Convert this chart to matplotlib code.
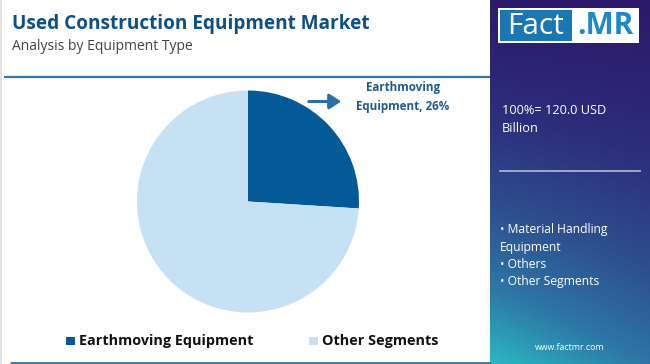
import numpy as np
import matplotlib
matplotlib.use("Agg")
import matplotlib.pyplot as plt
from matplotlib.colors import LinearSegmentedColormap
from matplotlib.patches import Rectangle

categories = ["Earthmoving Equipment", "Other Segments"]
values = [26, 74]
colors = ["#045a96", "#c6e1f3"]
title = "Used Construction Equipment Market"
subtitle = "Analysis by Equipment Type"
total_lines = ["100%= 120.0 USD", "Billion"]
bullets = ["• Material Handling", "Equipment", "• Others", "• Other Segments"]

W, H = 650, 364
fig = plt.figure(figsize=(6.5, 3.64), dpi=100)
fig.patch.set_facecolor("white")

def fx(x):
    return x / W

def fy(y):
    return 1 - y / H

FONT = "Open Sans"

# right gradient panel
cmap = LinearSegmentedColormap.from_list("fm", ["#2c1b6b", "#2d2f7c", "#2e4f8e", "#2d77a6", "#2bb8c1"])
ny, nx = 200, 80
yy, xx = np.mgrid[0:1:ny * 1j, 0:1:nx * 1j]
t = 0.85 * yy ** 1.3 + 0.3 * (1 - xx) * yy
t = (t - t.min()) / (t.max() - t.min())
panel = fig.add_axes([fx(490), 0, fx(W - 490), 1])
panel.imshow(t, cmap=cmap, aspect="auto", extent=[0, 1, 1, 0], interpolation="bilinear")
panel.set_xlim(0, 1)
panel.set_ylim(1, 0)
panel.axis("off")

# overlay axes in pixel coords
bg = fig.add_axes([0, 0, 1, 1])
bg.set_xlim(0, W)
bg.set_ylim(H, 0)
bg.axis("off")
bg.patch.set_alpha(0)
bg.add_patch(Rectangle((0, 0), 2, H, color="#e4e4e4", lw=0))
bg.plot([4, 490], [76.5, 76.5], color="#2f78a8", lw=1.6, solid_capstyle="butt")
bg.plot([10, 490], [362.5, 362.5], color="#2f78a8", lw=2.0, solid_capstyle="butt")

# logo
bg.add_patch(Rectangle((498, 8), 141, 35, facecolor="white", edgecolor="none", zorder=5))
bg.add_patch(Rectangle((500, 10), 72, 31, facecolor="#1b77b3", edgecolor="none", zorder=6))
bg.text(536, 26.5, "Fact", color="white", fontsize=21.5, family=FONT, ha="center", va="center", zorder=7)
bg.text(605, 26.5, ".MR", color="#1b8ac6", fontsize=21.5, family=FONT, weight="bold", ha="center", va="center", zorder=7)

# panel texts
bg.text(502, 110, total_lines[0], color="white", fontsize=9.2, family=FONT, va="center", zorder=7)
bg.text(502, 129, total_lines[1], color="white", fontsize=9.2, family=FONT, va="center", zorder=7)
bg.plot([500, 640], [171, 171], color="#a9b3cc", lw=1.3, zorder=7)
for i, b in enumerate(bullets):
    bg.text(500, 230 + i * 17.3, b, color="white", fontsize=8.7, family=FONT, va="center", zorder=7)
bg.text(570, 348, "www.factmr.com", color="white", fontsize=6.3, family=FONT, ha="center", va="center", zorder=7)

# titles
bg.text(12, 24, title, color="#0e4f86", fontsize=13.7, family=FONT, weight="bold", va="center")
bg.text(12, 46, subtitle, color="#444444", fontsize=10, family=FONT, va="center")

# pie
cx, cy, r = 248, 201.5, 111
pie_ax = fig.add_axes([fx(cx - r), fy(cy + r), fx(2 * r), (2 * r) / H])
pie_ax.pie(values, colors=colors, startangle=90, counterclock=False,
           wedgeprops=dict(linewidth=0))
pie_ax.set_aspect("auto")
pie_ax.set_xlim(-1, 1)
pie_ax.set_ylim(-1, 1)
pie_ax.axis("off")

# annotation
bg.annotate("", xy=(344, 101.5), xytext=(306, 101.5),
            arrowprops=dict(arrowstyle="-|>,head_width=0.45,head_length=0.7", color="#2b6fa6", lw=2.2))
bg.text(403, 97, f"Earthmoving\nEquipment, {values[0]}%", color="#1f5a92",
        fontsize=8.4, family=FONT, weight="bold", ha="center", va="center", linespacing=1.55)

# legend
leg_x = [66, 309]
for i, (c, col) in enumerate(zip(categories, colors)):
    bg.add_patch(Rectangle((leg_x[i], 336.5), 8.5, 8.5, facecolor=col, edgecolor="none"))
    bg.text(leg_x[i] + 13, 340.5, c, color="#111111", fontsize=10.4, family=FONT, weight="bold", va="center")

fig.savefig("out.png", dpi=100)
